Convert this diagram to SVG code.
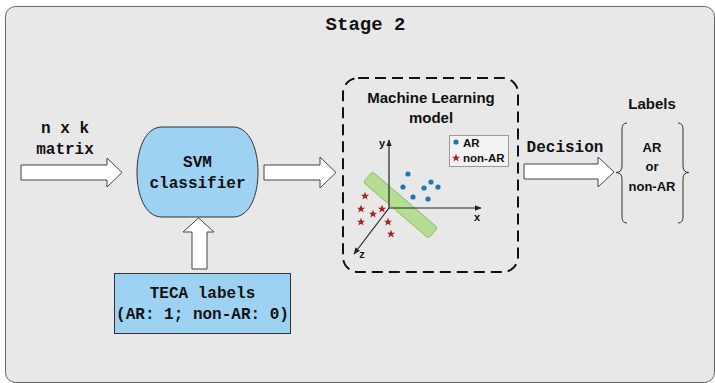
<svg xmlns="http://www.w3.org/2000/svg" width="715" height="383" viewBox="0 0 715 383">
<defs>
<style>
.mono{font-family:"Liberation Mono","DejaVu Sans Mono",monospace;font-weight:bold;fill:#111;text-anchor:middle}
.sans{font-family:"Liberation Sans",Arial,sans-serif;font-weight:bold;fill:#111;text-anchor:middle}
.arrow{fill:#fff;stroke:#444;stroke-width:1}
.blue{fill:#9dd2f3;stroke:#333;stroke-width:1}
.dot{fill:#1f77b4}
.star{fill:#a3262a}
.axis{stroke:#222;stroke-width:1.2;fill:none}
</style>
<marker id="ah" viewBox="0 0 10 10" refX="9" refY="5" markerWidth="7" markerHeight="7" orient="auto" markerUnits="userSpaceOnUse">
<path d="M0,1 L10,5 L0,9 Z" fill="#222"/>
</marker>
<path id="st" d="M0,-4.3 L1.2,-1.3 L4.1,-1.3 L1.8,0.6 L2.6,3.6 L0,1.8 L-2.6,3.6 L-1.8,0.6 L-4.1,-1.3 L-1.2,-1.3 Z"/>
</defs>
<rect x="5.5" y="6.5" width="709" height="376" rx="10" fill="#e8e8e8" stroke="#666" stroke-width="1"/>
<text class="mono" x="365.5" y="30" font-size="19">Stage 2</text>

<g id="connectors">
<path class="arrow" d="M21,165 L107,165 L107,158 L122,172.5 L107,187 L107,180 L21,180 Z"/>
<path class="arrow" d="M264,165 L320,165 L320,157 L336,172.5 L320,188 L320,180 L264,180 Z"/>
<path class="arrow" d="M192,269 L192,232 L183,232 L198.5,218 L214,232 L207,232 L207,269 Z"/>
<path class="arrow" d="M524,164 L598,164 L598,157 L614,172 L598,187 L598,179 L524,179 Z"/>
<text class="mono" x="65" y="133" font-size="16">n x k</text>
<text class="mono" x="65" y="154" font-size="16">matrix</text>
<text class="mono" x="565" y="152" font-size="16">Decision</text>
</g>

<g id="svm">
<path class="blue" d="M162,127 L233,127 C250,127 258,150 258,172 C258,195 250,217 233,217 L162,217 C145,217 137,195 137,172 C137,150 145,127 162,127 Z"/>
<text class="mono" x="197.5" y="167" font-size="16">SVM</text>
<text class="mono" x="197.5" y="188" font-size="16">classifier</text>
</g>

<g id="teca">
<rect class="blue" x="114.5" y="273.5" width="176" height="60"/>
<text class="mono" x="202.5" y="298" font-size="16">TECA labels</text>
<text class="mono" x="202.5" y="319" font-size="16">(AR: 1; non-AR: 0)</text>
</g>

<g id="ml">
<rect x="343" y="78" width="175" height="194" rx="15" fill="none" stroke="#111" stroke-width="2" stroke-dasharray="11,6"/>
<text class="sans" x="431" y="103" font-size="15">Machine Learning</text>
<text class="sans" x="431" y="123" font-size="15">model</text>
<rect x="-43" y="-7" width="86" height="14" rx="3" transform="translate(400.5,205) rotate(40.7)" fill="#b7dd94" stroke="#94c46f" stroke-width="1"/>
<line class="axis" x1="389" y1="208" x2="389" y2="140" marker-end="url(#ah)"/>
<line class="axis" x1="389" y1="208" x2="481" y2="208" marker-end="url(#ah)"/>
<line class="axis" x1="389" y1="208" x2="354" y2="254" marker-end="url(#ah)"/>
<text class="sans" x="382" y="147" font-size="11">y</text>
<text class="sans" x="477" y="221" font-size="11">x</text>
<text class="sans" x="362" y="258" font-size="11">z</text>
<circle class="dot" cx="408" cy="174" r="2.6"/>
<circle class="dot" cx="403" cy="187" r="2.6"/>
<circle class="dot" cx="424" cy="188" r="2.6"/>
<circle class="dot" cx="431" cy="182" r="2.6"/>
<circle class="dot" cx="438" cy="187" r="2.6"/>
<circle class="dot" cx="413" cy="197" r="2.6"/>
<circle class="dot" cx="428" cy="199" r="2.6"/>
<use href="#st" class="star" x="365" y="196"/>
<use href="#st" class="star" x="361" y="209"/>
<use href="#st" class="star" x="373" y="214"/>
<use href="#st" class="star" x="382" y="209"/>
<use href="#st" class="star" x="361" y="222"/>
<use href="#st" class="star" x="388" y="222"/>
<use href="#st" class="star" x="391" y="234"/>
<rect x="449.5" y="135.5" width="59" height="31" fill="#f2f2f2" stroke="#999" stroke-width="1"/>
<circle class="dot" cx="456" cy="142" r="2.6"/>
<text class="sans" x="463" y="146.5" font-size="11.5" style="text-anchor:start">AR</text>
<use href="#st" class="star" x="456" y="158"/>
<text class="sans" x="463" y="162" font-size="11.5" style="text-anchor:start">non-AR</text>
</g>

<g id="labels">
<text class="sans" x="652" y="109" font-size="15">Labels</text>
<path d="M627,123 Q622,123 622,129 L622,166 Q622,172.5 616,172.5 Q622,172.5 622,179 L622,217 Q622,223 627,223" fill="none" stroke="#333" stroke-width="1"/>
<path d="M678,123 Q683,123 683,129 L683,166 Q683,172.5 689,172.5 Q683,172.5 683,179 L683,217 Q683,223 678,223" fill="none" stroke="#333" stroke-width="1"/>
<text class="sans" x="652" y="152" font-size="13">AR</text>
<text class="sans" x="652" y="171" font-size="13">or</text>
<text class="sans" x="652" y="191" font-size="13">non-AR</text>
</g>
</svg>
